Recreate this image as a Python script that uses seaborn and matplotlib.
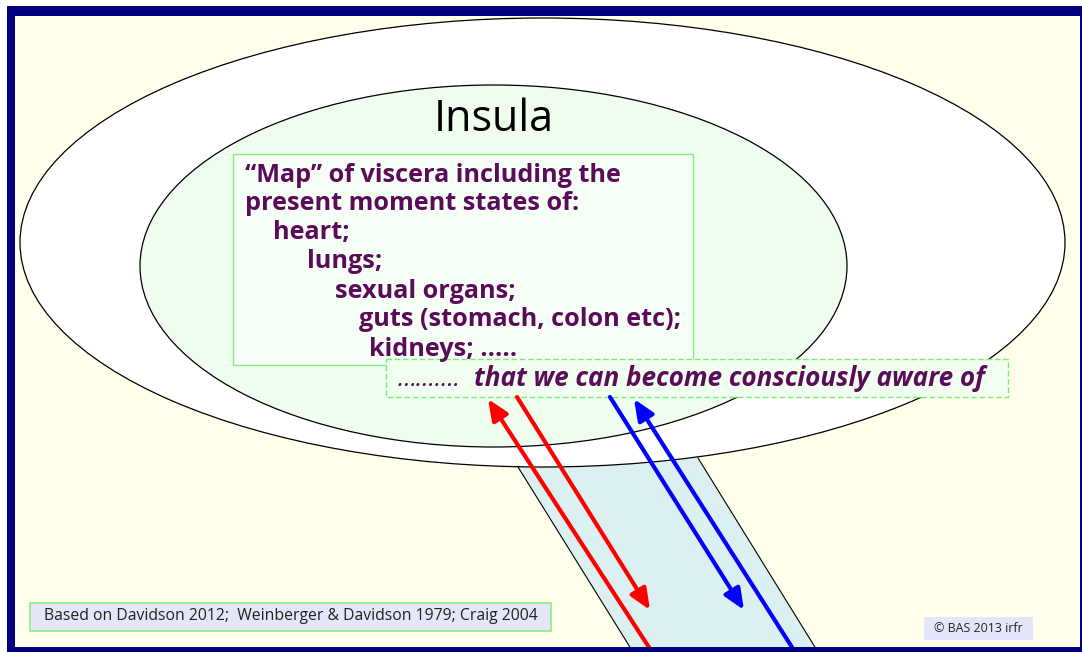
import matplotlib
matplotlib.use("Agg")
import matplotlib.pyplot as plt
from matplotlib.patches import Ellipse, Rectangle, Polygon
import seaborn as sns
import pandas as pd

sns.set_theme(style="white")
plt.rcParams['font.family'] = ['Open Sans', 'DejaVu Sans']

# ---- content ----
title_text = "Insula"
map_lines = ["\u201cMap\u201d of viscera including the",
             "present moment states of:",
             "heart;",
             "lungs;",
             "sexual organs;",
             "guts (stomach, colon etc);",
             "kidneys; ....."]
map_indent = [245, 245, 273, 307, 335, 359, 369]
aware_dots = "\u2026\u2026\u2026."
aware_text = "that we can become consciously aware of"
source_text = "Based on Davidson 2012;  Weinberger & Davidson 1979; Craig 2004"
copyright_text = "\u00a9 BAS 2013 irfr"

# arrows: (start_x, start_y, end_x, end_y, colour)
arrow_start_x = [652, 517, 610, 795]
arrow_start_y = [652, 397, 397, 652]
arrow_end_x = [488, 650, 744, 634]
arrow_end_y = [399, 610, 610, 399]
arrow_colors = ["#FF0000", "#FF0000", "#0000FF", "#0000FF"]

# trunk edges
trunk_x = [518, 633, 818, 698]
trunk_y = [467, 652, 652, 458]

PURPLE = "#5C0A5A"
IVORY = "#FFFFEB"
NAVY = "#000080"

fig = plt.figure(figsize=(10.82, 6.52), dpi=100)
fig.patch.set_facecolor("white")
ax = fig.add_axes([0, 0, 1, 1])
ax.set_xlim(0, 1082)
ax.set_ylim(652, 0)
ax.axis("off")

# background
ax.add_patch(Rectangle((7, 6), 1075, 646, facecolor=IVORY, edgecolor="none", zorder=0))

# trunk
ax.add_patch(Polygon(list(zip(trunk_x, trunk_y)), closed=True, facecolor="#DCEFF1",
                     edgecolor="none", zorder=1))
edges = pd.DataFrame({"x": [trunk_x[0], trunk_x[1], trunk_x[3], trunk_x[2]],
                      "y": [trunk_y[0], trunk_y[1], trunk_y[3], trunk_y[2]],
                      "edge": ["l", "l", "r", "r"]})
sns.lineplot(data=edges, x="x", y="y", units="edge", estimator=None, sort=False,
             color="black", lw=0.8, ax=ax, zorder=1.5)

# ellipses
ax.add_patch(Ellipse((542.5, 242.5), 1045, 449, facecolor="white", edgecolor="black",
                     lw=0.9, zorder=2))
ax.add_patch(Ellipse((493.5, 266), 707, 362, facecolor="#EEFDEE", edgecolor="black",
                     lw=0.9, zorder=3))

ax.text(494, 120, title_text, fontsize=31, color="black", ha="center", va="center",
        zorder=6)

# map box
ax.add_patch(Rectangle((233, 154), 460, 211, facecolor="#F5FFF5", edgecolor="#88EE88",
                       lw=1.0, zorder=4))
for i, (line, xi) in enumerate(zip(map_lines, map_indent)):
    ax.text(xi, 175 + i * 29, line, fontsize=18.2, fontweight="bold", color=PURPLE,
            ha="left", va="center", zorder=6)

# dashed box
ax.add_patch(Rectangle((386, 359), 622, 38, facecolor="#F0FFF0", edgecolor="#77EE77",
                       lw=1.0, linestyle=(0, (4, 2)), zorder=5))
ax.text(397, 379, aware_dots, fontsize=18, fontstyle="italic", color=PURPLE,
        ha="left", va="center", zorder=6)
ax.text(985, 379, aware_text, fontsize=18.8, fontstyle="italic", fontweight="bold",
        color=PURPLE, ha="right", va="center", zorder=6)

# arrows
for sx, sy, ex, ey, c in zip(arrow_start_x, arrow_start_y, arrow_end_x, arrow_end_y, arrow_colors):
    ax.annotate("", xy=(ex, ey), xytext=(sx, sy),
                arrowprops=dict(arrowstyle="-|>,head_length=0.7,head_width=0.3",
                                mutation_scale=18, color=c, lw=3.0,
                                shrinkA=0, shrinkB=0),
                zorder=7)

# bottom-left source box
ax.add_patch(Rectangle((30, 603), 521, 28, facecolor="#E6E6FA", edgecolor="#88EE88",
                       lw=1.2, zorder=6))
ax.text(290.5, 616.5, source_text, fontsize=11.3, color="#222222", ha="center",
        va="center", zorder=7)

# copyright box
ax.add_patch(Rectangle((924, 617), 109, 23, facecolor="#E6E6FA", edgecolor="none", zorder=6))
ax.text(978.5, 628.5, copyright_text, fontsize=8.9, color="#222222", ha="center",
        va="center", zorder=7)

# navy frame on top
ax.add_patch(Rectangle((7, 6), 1075, 10, facecolor=NAVY, edgecolor="none", zorder=10))
ax.add_patch(Rectangle((7, 6), 8, 646, facecolor=NAVY, edgecolor="none", zorder=10))
ax.add_patch(Rectangle((7, 647), 1075, 5, facecolor=NAVY, edgecolor="none", zorder=10))
ax.add_patch(Rectangle((1080, 6), 2, 646, facecolor=NAVY, edgecolor="none", zorder=10))

fig.savefig("out.png", dpi=100, facecolor="white")
